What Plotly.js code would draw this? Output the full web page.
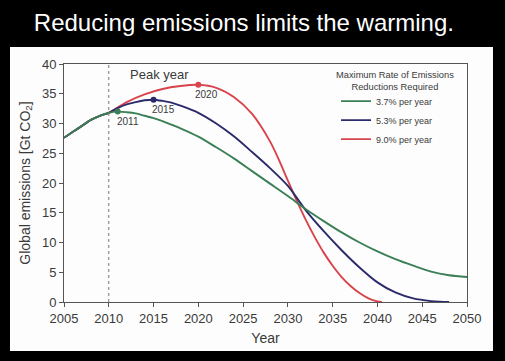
<!DOCTYPE html>
<html>
<head>
<meta charset="utf-8">
<script src="https://cdn.plot.ly/plotly-3.0.1.min.js"></script>
<style>html,body{margin:0;padding:0;background:#000;}#chart{width:505px;height:361px;}</style>
</head>
<body>
<div id="chart"></div>
<script>
// Data
const greenYears = [2005, 2006, 2007, 2008, 2009, 2010, 2011, 2012, 2013, 2014, 2015, 2016, 2017, 2018, 2020, 2022, 2024, 2026, 2028, 2030, 2032, 2034, 2036, 2038, 2040, 2042, 2044, 2046, 2048, 2050];
const greenValues = [27.6, 28.6, 29.6, 30.6, 31.3, 31.8, 32.0, 31.9, 31.7, 31.3, 30.9, 30.4, 29.8, 29.2, 27.8, 26.0, 24.1, 22.0, 19.9, 17.8, 15.6, 13.6, 11.7, 10.0, 8.5, 7.2, 6.1, 5.1, 4.5, 4.2];

const blueYears = [2005, 2006, 2007, 2008, 2009, 2010, 2011, 2012, 2013, 2014, 2015, 2016, 2017, 2018, 2020, 2022, 2024, 2026, 2028, 2030, 2032, 2034, 2036, 2038, 2040, 2042, 2044, 2046, 2047, 2048];
const blueValues = [27.6, 28.6, 29.6, 30.6, 31.3, 31.8, 32.6, 33.2, 33.6, 33.9, 34.0, 33.8, 33.5, 33.0, 31.8, 30.0, 27.8, 25.2, 22.5, 19.5, 15.4, 11.9, 8.7, 5.8, 3.3, 1.6, 0.6, 0.15, 0.05, 0.0];

const redYears = [2005, 2006, 2007, 2008, 2009, 2010, 2012, 2014, 2016, 2018, 2020, 2022, 2024, 2026, 2028, 2029, 2030, 2031, 2032, 2033, 2034, 2035, 2036, 2037, 2038, 2039, 2040, 2040.5];
const redValues = [27.6, 28.6, 29.6, 30.6, 31.3, 31.8, 33.6, 34.9, 35.8, 36.3, 36.5, 36.0, 34.4, 31.6, 27.0, 23.9, 20.4, 17.0, 13.8, 10.9, 8.3, 6.1, 4.2, 2.7, 1.5, 0.6, 0.1, 0.0];

const peakYears = [2011, 2015, 2020];
const peakValues = [32.0, 34.0, 36.5];
const peakLabels = ['2011', '2015', '2020'];
const seriesNames = ['3.7% per year', '5.3% per year', '9.0% per year'];
const legendTitle = 'Maximum Rate of Emissions<br>Reductions Required';
const xTicks = [2005, 2010, 2015, 2020, 2025, 2030, 2035, 2040, 2045, 2050];
const yTicks = [0, 5, 10, 15, 20, 25, 30, 35, 40];

const GREEN = '#3a7f55', BLUE = '#2b2a6a', RED = '#d8434c';
const TXT = '#3a3a3a';
const FONT = 'Liberation Sans, Arial, sans-serif';

const lineStyle = (c) => ({color: c, width: 1.9, shape: 'spline', smoothing: 0.8});
const traces = [
  {x: redYears, y: redValues, mode: 'lines', name: seriesNames[2], line: lineStyle(RED), legendrank: 3},
  {x: blueYears, y: blueValues, mode: 'lines', name: seriesNames[1], line: lineStyle(BLUE), legendrank: 2},
  {x: greenYears, y: greenValues, mode: 'lines', name: seriesNames[0], line: lineStyle(GREEN), legendrank: 1},
  {x: peakYears, y: peakValues, mode: 'markers', showlegend: false, hoverinfo: 'skip',
   marker: {color: [GREEN, BLUE, RED], size: 6}}
];

const annotations = [
  {x: 2015.7, y: 38.2, text: 'Peak year', showarrow: false, font: {size: 13, color: TXT, family: FONT}},
  {x: 2012.1, y: 30.3, text: peakLabels[0], showarrow: false, font: {size: 10, color: TXT, family: FONT}},
  {x: 2016.1, y: 32.3, text: peakLabels[1], showarrow: false, font: {size: 10, color: TXT, family: FONT}},
  {x: 2020.9, y: 34.8, text: peakLabels[2], showarrow: false, font: {size: 10, color: TXT, family: FONT}},
  {xref: 'paper', yref: 'paper', x: 0.821, y: 0.985, xanchor: 'center', yanchor: 'top', align: 'center',
   text: legendTitle, showarrow: false, font: {size: 9.3, color: TXT, family: FONT}}
];

const layout = {
  width: 505, height: 361,
  margin: {l: 64, r: 38, t: 64, b: 59, pad: 0},
  paper_bgcolor: '#000000',
  plot_bgcolor: '#ffffff',
  font: {family: FONT, color: TXT},
  title: {text: 'Reducing emissions limits the warming.', font: {size: 24, color: '#ffffff', family: FONT},
          xref: 'container', x: 0.483, xanchor: 'center', yref: 'container', y: 0.938, yanchor: 'middle'},
  showlegend: true,
  legend: {x: 0.675, xanchor: 'left', y: 0.905, yanchor: 'top', bgcolor: 'rgba(0,0,0,0)',
           font: {size: 9, color: TXT, family: FONT}, traceorder: 'normal', tracegroupgap: 0},
  xaxis: {range: [2005, 2050], tickvals: xTicks, ticks: 'outside', ticklen: 4, tickcolor: '#555',
          showline: true, linecolor: '#555', linewidth: 1, mirror: true, showgrid: false, zeroline: false,
          tickfont: {size: 13, color: TXT}, title: {text: 'Year', font: {size: 14, color: TXT}, standoff: 8}},
  yaxis: {range: [0, 40], tickvals: yTicks, ticks: 'outside', ticklen: 4, tickcolor: '#555',
          showline: true, linecolor: '#555', linewidth: 1, mirror: true, showgrid: false, zeroline: false,
          tickfont: {size: 13, color: TXT}, title: {text: 'Global emissions [Gt CO<sub>2</sub>]', font: {size: 14, color: TXT}, standoff: 8}},
  shapes: [
    {type: 'rect', xref: 'paper', yref: 'paper', x0: -0.134, x1: 1.0645, y0: -0.206, y1: 1.0714,
     fillcolor: '#fdfdfd', line: {width: 0}, layer: 'below'},
    {type: 'line', xref: 'x', yref: 'y', x0: 2010, x1: 2010, y0: 0, y1: 40,
     line: {color: '#777', width: 1, dash: 'dot'}}
  ],
  annotations: annotations
};

Plotly.newPlot('chart', traces, layout, {displayModeBar: false, staticPlot: true});
</script>
</body>
</html>
